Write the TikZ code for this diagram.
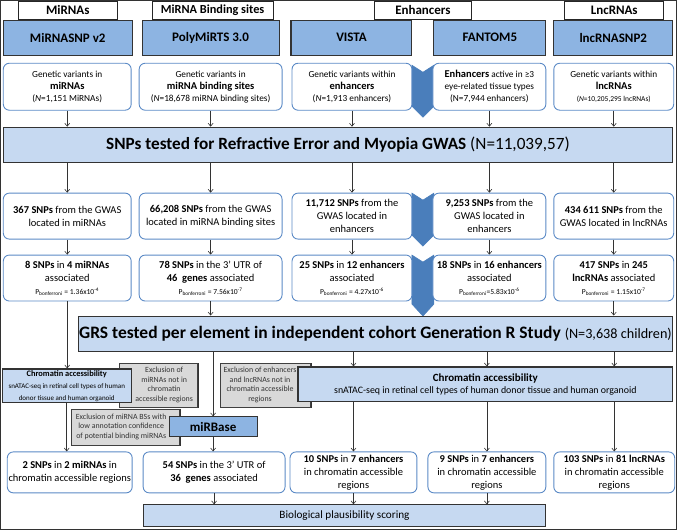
\documentclass[tikz,border=0pt]{standalone}
\usepackage{fontspec}
\setmainfont{Carlito}
\usetikzlibrary{
arrows.meta,
shadows,
}
\definecolor{sourceblue}{HTML}{8DB4E2}
\definecolor{summaryblue}{HTML}{C6D9F1}
\definecolor{edgeblue}{HTML}{5B8AC6}
\definecolor{mergeblue}{HTML}{4A7EBB}
\definecolor{exgray}{HTML}{D9D9D9}
\tikzset{
every node/.style={align=center, inner sep=1pt},
category/.style={rectangle, draw=black!85, line width=0.8pt, fill=white, font=\fontsize{13}{15}\selectfont\bfseries},
source/.style={rectangle, draw=black!80, line width=1.1pt, fill=sourceblue, font=\fontsize{13}{15}\selectfont\bfseries},
finding/.style={rectangle, rounded corners=6pt, draw=edgeblue, line width=0.9pt, fill=white, font=\fontsize{10.5}{13}\selectfont},
variants/.style={finding, font=\fontsize{9.3}{12}\selectfont},
summary/.style={rectangle, draw=black!80, line width=1pt, fill=summaryblue},
exclusion/.style={rectangle, draw=black!75, line width=0.8pt, fill=exgray, drop shadow={shadow xshift=0.8pt, shadow yshift=-0.8pt, fill=black!65, opacity=1}},
extext/.style={font=\fontsize{7.9}{9.6}\selectfont, text=black!80},
>={Straight Barb[length=3pt,width=5pt]},
}
\newcommand{\pbon}[1]{{\fontsize{7.6}{9}\selectfont P\textsubscript{bonferroni} = #1}}
\newcommand{\bigb}[1]{{\fontsize{10.5}{12}\selectfont\textbf{#1}}}

\begin{document}
\begin{tikzpicture}[x=1pt, y=-1pt, every path/.style={line width=0.6pt, draw=black!80}]
    \useasboundingbox (0,0) rectangle (677,529);

    % merging arrows between VISTA and FANTOM5
    \fill[mergeblue] (412,65) -- (423,72) -- (434,65) -- (434,106) -- (423,117) -- (412,106) -- cycle;
    \fill[mergeblue] (412,193) -- (423,200) -- (434,193) -- (434,235) -- (423,246) -- (412,235) -- cycle;
    \fill[mergeblue] (412,255) -- (423,262) -- (434,255) -- (434,304) -- (423,316) -- (412,304) -- cycle;

    \node [source, minimum width=129, minimum height=35] (db1) at (67.5,37.5) {MiRNASNP v2};
    \node [source, minimum width=137, minimum height=35] (db2) at (210.5,37.5) {PolyMiRTS 3.0};
    \node [source, minimum width=121, minimum height=35] (db3) at (351.5,37.5) {VISTA};
    \node [source, minimum width=112, minimum height=35] (db4) at (490,37.5) {FANTOM5};
    \node [source, minimum width=119, minimum height=35] (db5) at (613.5,37.5) {lncRNASNP2};

    \node [category, minimum width=99, minimum height=18] (cat1) at (67.5,10) {MiRNAs};
    \node [category, minimum width=121, minimum height=18, font=\fontsize{12.3}{14}\selectfont\bfseries] (cat2) at (212.5,10) {MiRNA Binding sites};
    \node [category, minimum width=98, minimum height=18] (cat3) at (423,10) {Enhancers};
    \node [category, minimum width=99, minimum height=18] (cat4) at (614.5,10) {LncRNAs};

    \node [variants, minimum width=128, minimum height=47] (r1c1) at (67,86.5) {Genetic variants in\\\bigb{miRNAs}\\(\textit{N}=1,151 MiRNAs)};
    \node [variants, minimum width=143, minimum height=47] (r1c2) at (210.5,86.5) {Genetic variants in\\\bigb{miRNA binding sites}\\(\textit{N}=18,678 miRNA binding sites)};
    \node [variants, minimum width=120, minimum height=47] (r1c3) at (352,86.5) {Genetic variants within\\\bigb{enhancers}\\(\textit{N}=1,913 enhancers)};
    \node [variants, minimum width=113, minimum height=47] (r1c4) at (489.5,86.5) {\bigb{Enhancers} active in ≥3\\eye-related tissue types\\(N=7,944 enhancers)};
    \node [variants, minimum width=120, minimum height=47] (r1c5) at (614,86.5) {Genetic variants within\\\bigb{lncRNAs}\\{\fontsize{7.5}{9}\selectfont(\textit{N}=10,205,295 lncRNAs)}};

    \node [summary, minimum width=670, minimum height=35] (snps) at (338,144.5) {\fontsize{17.2}{19}\selectfont\textbf{SNPs tested for Refractive Error and Myopia GWAS} (N=11,039,57)};

    \node [finding, minimum width=128, minimum height=46] (r2c1) at (67,216) {\textbf{367 SNPs} from the GWAS\\located in miRNAs};
    \node [finding, minimum width=143, minimum height=46] (r2c2) at (210.5,216) {\textbf{66,208 SNPs} from the GWAS\\located in miRNA binding sites};
    \node [finding, minimum width=120, minimum height=46] (r2c3) at (352,216) {\textbf{11,712 SNPs} from the\\GWAS located in\\enhancers};
    \node [finding, minimum width=113, minimum height=46] (r2c4) at (489.5,216) {\textbf{9,253 SNPs} from the\\GWAS located in\\enhancers};
    \node [finding, minimum width=120, minimum height=46] (r2c5) at (614,216) {\textbf{434 611 SNPs} from the\\GWAS located in lncRNAs};

    \node [finding, minimum width=128, minimum height=46] (r3c1) at (67,278) {\textbf{8 SNPs} in \textbf{4 miRNAs}\\associated\\\pbon{1.36x10\textsuperscript{-4}}};
    \node [finding, minimum width=143, minimum height=46] (r3c2) at (210.5,278) {\textbf{78 SNPs} in the 3' UTR of\\\textbf{46\ \ genes} associated\\\pbon{7.56x10\textsuperscript{-7}}};
    \node [finding, minimum width=120, minimum height=46] (r3c3) at (352,278) {\textbf{25 SNPs} in \textbf{12 enhancers}\\associated\\\pbon{4.27x10\textsuperscript{-6}}};
    \node [finding, minimum width=113, minimum height=46] (r3c4) at (489.5,278) {\textbf{18 SNPs} in \textbf{16 enhancers}\\associated\\{\fontsize{7.6}{9}\selectfont P\textsubscript{bonferroni}=5.83x10\textsuperscript{-6}}};
    \node [finding, minimum width=120, minimum height=46] (r3c5) at (614,278) {\textbf{417 SNPs} in \textbf{245}\\\textbf{lncRNAs} associated\\\pbon{1.15x10\textsuperscript{-7}}};

    \node [summary, minimum width=595, minimum height=36] (grs) at (375.5,334) {\fontsize{17.5}{20}\selectfont\textbf{GRS tested per element in independent cohort Generation R Study} {\fontsize{14.2}{18}\selectfont(N=3,638 children)}};

    \node [exclusion, minimum width=78, minimum height=44, label={[extext, xshift=6pt]center:Exclusion of\\miRNAs not in\\chromatin\\accessible regions}] (exmir) at (158,385) {};
    \node [exclusion, minimum width=90, minimum height=44, label={[extext, xshift=-5pt]center:Exclusion of enhancers\\and lncRNAs not in\\chromatin accessible\\regions}] (exenh) at (265,385) {};
    \node [exclusion, minimum width=108, minimum height=36, label={[extext, xshift=-4pt]center:Exclusion of miRNA BSs with\\low annotation confidence\\of potential binding miRNAs}] (exbs) at (125,427) {};

    \node [summary, line width=1.1pt, minimum width=129, minimum height=34] (chromL) at (66.5,386) {{\fontsize{8.4}{10}\selectfont\textbf{Chromatin accessibility}}\\{\fontsize{7}{8.5}\selectfont snATAC-seq in retinal cell types of human}\\{\fontsize{7}{8.5}\selectfont donor tissue and human organoid}};
    \node [summary, line width=1.1pt, minimum width=375, minimum height=35] (chromR) at (485.5,384.5) {{\fontsize{11}{13}\selectfont\textbf{Chromatin accessibility}}\\{\fontsize{9.9}{12}\selectfont snATAC-seq in retinal cell types of human donor tissue and human organoid}};
    \node [source, minimum width=88, minimum height=20] (mirbase) at (213,427) {miRBase};

    \node [finding, minimum width=125, minimum height=41] (r4c1) at (69.5,472.5) {\textbf{2 SNPs} in \textbf{2 miRNAs} in\\chromatin accessible regions};
    \node [finding, minimum width=142, minimum height=41] (r4c2) at (214,472.5) {\textbf{54 SNPs} in the 3' UTR of\\\textbf{36\ \ genes} associated};
    \node [finding, minimum width=127, minimum height=41] (r4c3) at (353.5,472.5) {\textbf{10 SNPs} in \textbf{7 enhancers}\\in chromatin accessible\\regions};
    \node [finding, minimum width=118, minimum height=41] (r4c4) at (487,472.5) {\textbf{9 SNPs} in \textbf{7 enhancers}\\in chromatin accessible\\regions};
    \node [finding, minimum width=121, minimum height=41] (r4c5) at (614.5,472.5) {\textbf{103 SNPs} in \textbf{81 lncRNAs}\\in chromatin accessible\\regions};

    \node [summary, minimum width=403, minimum height=22, font=\fontsize{11.2}{13}\selectfont] (bio) at (344.5,516) {Biological plausibility scoring};

    \foreach \c in {1,...,5} {
        \draw [->] (r1c\c.south) -- (r1c\c.south |- snps.north);
        \draw [->] (r2c\c.north |- snps.south) -- (r2c\c.north);
        \draw [->] (r2c\c.south) -- (r3c\c.north);
    }
    \draw [->] (r3c1.south) -- (r3c1.south |- chromL.north);
    \draw [->] (r3c2.south) -- (r3c2.south |- grs.north);
    \draw [->] (r3c5.south) -- (r3c5.south |- grs.north);
    \draw [->] (mirbase.north |- grs.south) -- (mirbase.north);
    \foreach \c in {3,4,5} {
        \draw [->] (r4c\c.north |- grs.south) -- (r4c\c.north |- chromR.north);
        \draw [->] (r4c\c.north |- chromR.south) -- (r4c\c.north);
    }
    \draw [->] (chromL.south) -- (chromL.south |- r4c1.north);
    \draw [->] (mirbase.south) -- (mirbase.south |- r4c2.north);
    \foreach \c in {2,3,4}
        \draw [->] (r4c\c.south) -- (r4c\c.south |- bio.north);
\end{tikzpicture}
\end{document}
